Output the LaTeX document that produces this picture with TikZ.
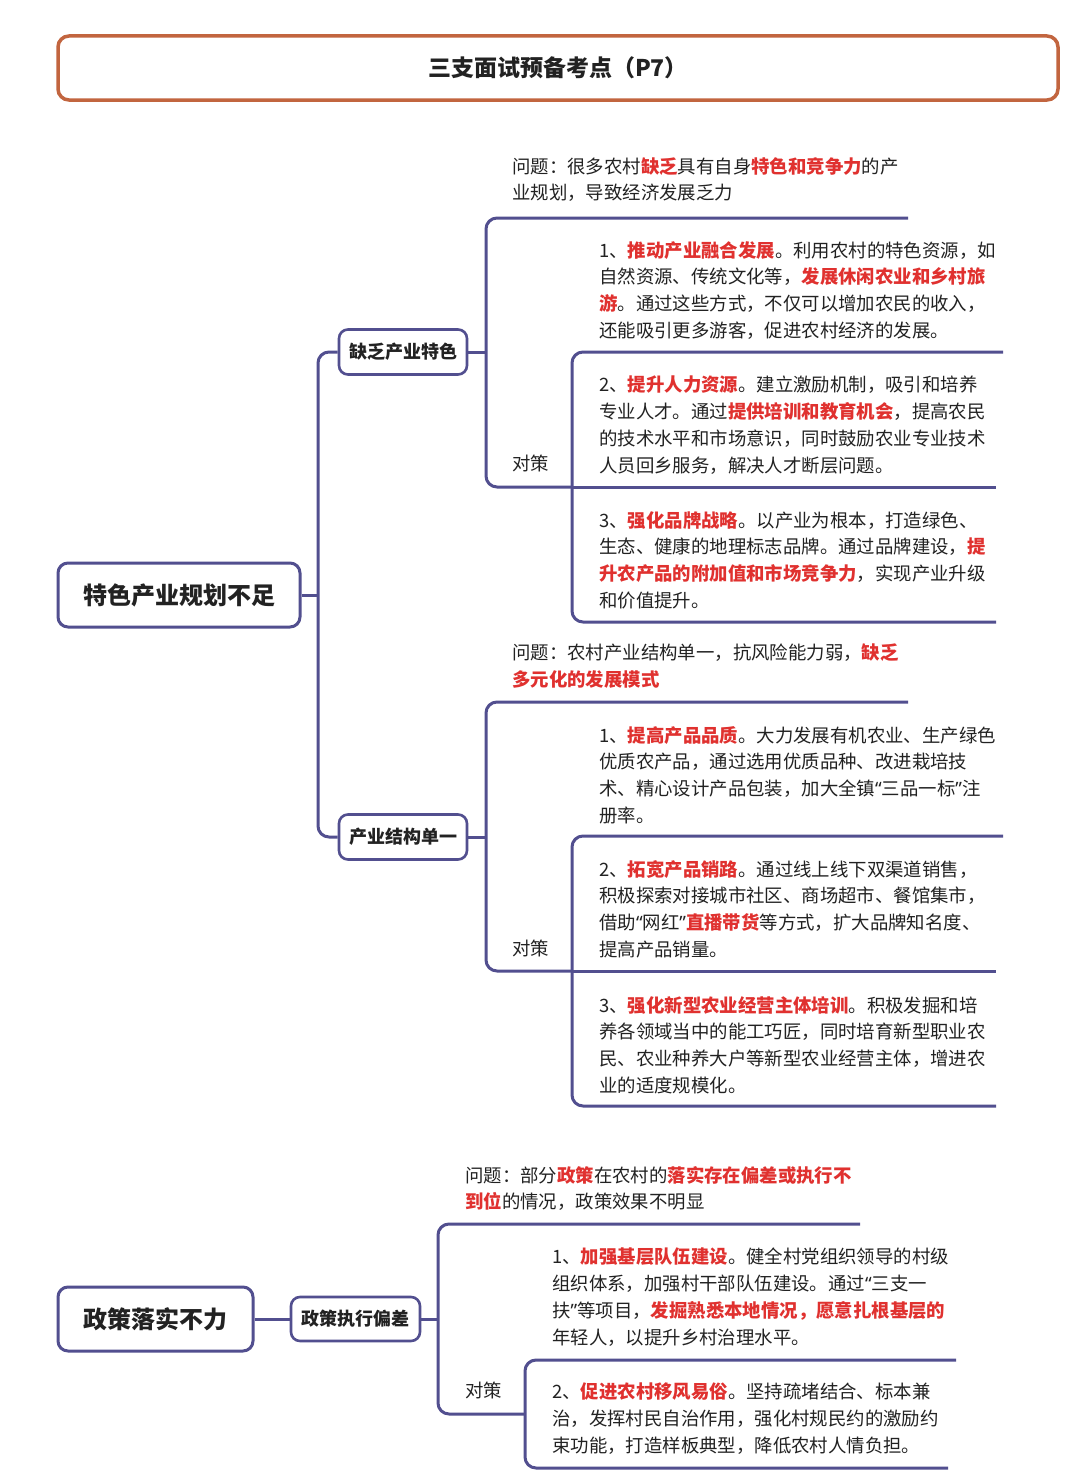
\documentclass[tikz,border=0pt]{standalone}
\usepackage{fontspec}
\setmainfont{Noto Sans CJK SC}
\newfontfamily\latinq{Noto Sans}
\newcommand\qopen{{\latinq “}}
\newcommand\qclose{{\latinq ”}}
\definecolor{pline}{HTML}{524F8F}
\definecolor{tline}{HTML}{C2653F}
\definecolor{hred}{HTML}{E0312F}
\definecolor{txt}{HTML}{222222}
\newcommand\hl[1]{{\bfseries\color{hred}#1}}
\begin{document}
\begin{tikzpicture}[x=1pt,y=-1pt,
  conn/.style={draw=pline, line width=3pt, rounded corners=11pt},
  titlebox/.style={draw=tline, line width=3.5pt, rounded corners=11pt, font=\fontsize{23}{27}\selectfont\bfseries, text=txt, inner sep=0, minimum width=1000pt, minimum height=64pt},
  rootbox/.style={draw=pline, line width=3pt, rounded corners=10pt, font=\fontsize{24}{28}\selectfont\bfseries, text=txt, inner sep=0, minimum height=64pt},
  subbox/.style={draw=pline, line width=2.6pt, rounded corners=9pt, font=\fontsize{18}{21}\selectfont\bfseries, text=txt, inner sep=0, minimum width=128pt, minimum height=45pt},
  para/.style={anchor=north west, inner sep=0, align=left, text=txt, font=\fontsize{18.4}{26.7}\selectfont},
]
\fill[white] (0,0) rectangle (1080,1472);
\useasboundingbox (0,0) rectangle (1080,1472);

% title
\node[titlebox] (title) at (558,68) {三支面试预备考点（P7）};

% roots and sub nodes
\node[rootbox, minimum width=242pt] (r1) at (179,595) {特色产业规划不足};
\node[subbox] (s1) at (403,352) {缺乏产业特色};
\node[subbox] (s2) at (403,837) {产业结构单一};
\node[rootbox, minimum width=195pt] (r2) at (155.5,1319) {政策落实不力};
\node[subbox, minimum width=129pt, minimum height=44pt] (s3) at (355.5,1319) {政策执行偏差};

% ---------- group 1 ----------
\node[para] (g1q) at (512,157) {问题：很多农村\hl{缺乏}具有自身\hl{特色和竞争力}的产\\业规划，导致经济发展乏力};
\node[para] (g1d) at (512,455) {对策};
\node[para] (g1i1) at (599,241) {1、\hl{推动产业融合发展}。利用农村的特色资源，如\\自然资源、传统文化等，\hl{发展休闲农业和乡村旅}\\\hl{游}。通过这些方式，不仅可以增加农民的收入，\\还能吸引更多游客，促进农村经济的发展。};
\node[para] (g1i2) at (599,376) {2、\hl{提升人力资源}。建立激励机制，吸引和培养\\专业人才。通过\hl{提供培训和教育机会}，提高农民\\的技术水平和市场意识，同时鼓励农业专业技术\\人员回乡服务，解决人才断层问题。};
\node[para] (g1i3) at (599,511) {3、\hl{强化品牌战略}。以产业为根本，打造绿色、\\生态、健康的地理标志品牌。通过品牌建设，\hl{提}\\\hl{升农产品的附加值和市场竞争力}，实现产业升级\\和价值提升。};

% ---------- group 2 ----------
\node[para] (g2q) at (512,644) {问题：农村产业结构单一，抗风险能力弱，\hl{缺乏}\\\hl{多元化的发展模式}};
\node[para] (g2d) at (512,940) {对策};
\node[para] (g2i1) at (599,726) {1、\hl{提高产品品质}。大力发展有机农业、生产绿色\\优质农产品，通过选用优质品种、改进栽培技\\术、精心设计产品包装，加大全镇\qopen 三品一标\qclose 注\\册率。};
\node[para] (g2i2) at (599,860) {2、\hl{拓宽产品销路}。通过线上线下双渠道销售，\\积极探索对接城市社区、商场超市、餐馆集市，\\借助\qopen 网红\qclose\hl{直播带货}等方式，扩大品牌知名度、\\提高产品销量。};
\node[para] (g2i3) at (599,996) {3、\hl{强化新型农业经营主体培训}。积极发掘和培\\养各领域当中的能工巧匠，同时培育新型职业农\\民、农业种养大户等新型农业经营主体，增进农\\业的适度规模化。};

% ---------- group 3 ----------
\node[para] (g3q) at (465,1166) {问题：部分\hl{政策}在农村的\hl{落实存在偏差或执行不}\\\hl{到位}的情况，政策效果不明显};
\node[para] (g3d) at (465,1382) {对策};
\node[para] (g3i1) at (552,1248) {1、\hl{加强基层队伍建设}。健全村党组织领导的村级\\组织体系，加强村干部队伍建设。通过\qopen 三支一\\扶\qclose 等项目，\hl{发掘熟悉本地情况，愿意扎根基层的}\\年轻人，以提升乡村治理水平。};
\node[para] (g3i2) at (552,1383) {2、\hl{促进农村移风易俗}。坚持疏堵结合、标本兼\\治，发挥村民自治作用，强化村规民约的激励约\\束功能，打造样板典型，降低农村人情负担。};

% coordinates (underline ends and junctions)
\coordinate (j0) at (318,595);
\coordinate (g1qR) at (908,218);
\coordinate (g1a) at (486,352);
\coordinate (g1j) at (572,487);
\coordinate (g1i1R) at (1003,352);
\coordinate (g1i2R) at (996,487);
\coordinate (g1i3R) at (996,622);
\coordinate (g2qR) at (908,702);
\coordinate (g2a) at (486,837);
\coordinate (g2j) at (572,971);
\coordinate (g2i1R) at (1003,836);
\coordinate (g2i2R) at (996,971);
\coordinate (g2i3R) at (996,1106);
\coordinate (g3qR) at (860,1224);
\coordinate (g3a) at (438,1319);
\coordinate (g3j) at (525,1414);
\coordinate (g3i1R) at (956,1360);
\coordinate (g3i2R) at (948,1468);

% connectors: root 1
\draw[conn] (r1.east) -- (j0);
\draw[conn] (s1.west) -- (318,352) -- (318,837) -- (s2.west);

% group 1
\draw[conn] (s1.east) -- (g1a);
\draw[conn] (g1qR) -- (486,218) -- (486,487) -- (g1j);
\draw[conn] (g1i1R) -- (572,352) -- (572,622) -- (g1i3R);
\draw[conn] (g1j) -- (g1i2R);

% group 2
\draw[conn] (s2.east) -- (g2a);
\draw[conn] (g2qR) -- (486,702) -- (486,971) -- (g2j);
\draw[conn] (g2i1R) -- (572,836) -- (572,1106) -- (g2i3R);
\draw[conn] (g2j) -- (g2i2R);

% group 3
\draw[conn] (r2.east) -- (s3.west);
\draw[conn] (s3.east) -- (g3a);
\draw[conn] (g3qR) -- (438,1224) -- (438,1414) -- (g3j);
\draw[conn] (g3i1R) -- (525,1360) -- (525,1468) -- (g3i2R);
\end{tikzpicture}
\end{document}
